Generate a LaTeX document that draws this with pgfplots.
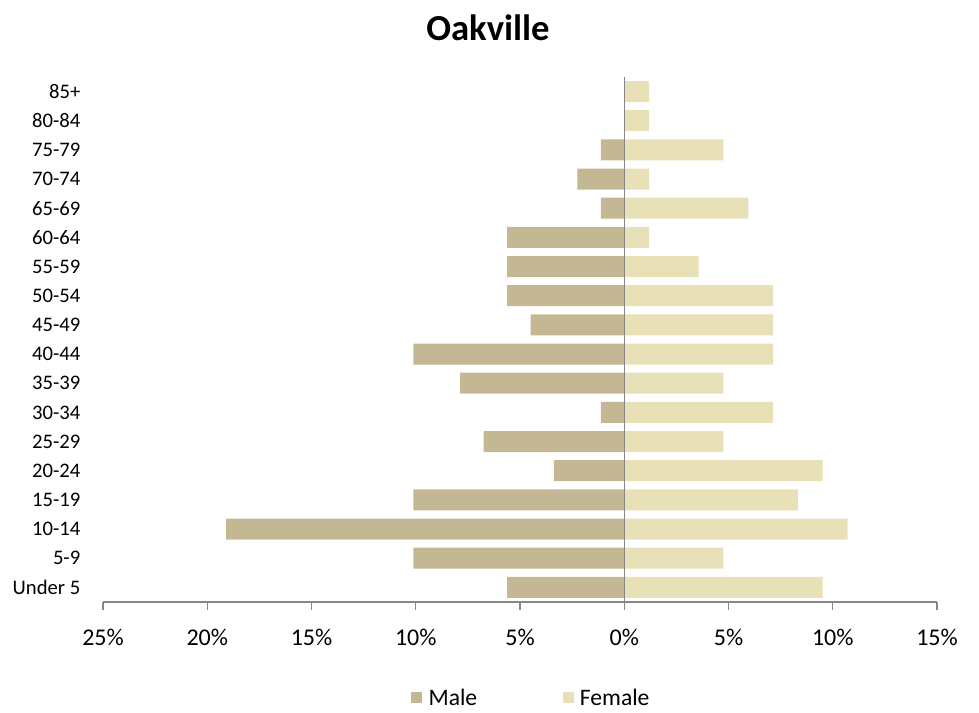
\documentclass[border=0pt]{standalone}
\usepackage{pgfplots}
\pgfplotsset{compat=1.18}
\usepackage{fontspec}
\setmainfont{Carlito}
\definecolor{malec}{HTML}{C4B894}
\definecolor{femalec}{HTML}{E8E0B6}
\definecolor{axgray}{HTML}{868686}
\begin{document}
\begin{tikzpicture}
\path[use as bounding box] (0,0) rectangle (734.25pt,534.75pt);
\begin{axis}[
  at={(77.25pt,83.25pt)}, anchor=south west,
  scale only axis, width=625.5pt, height=393.75pt,
  xmin=-25, xmax=15, ymin=-0.5, ymax=17.5,
  axis x line*=bottom, axis y line*=left,
  x axis line style={axgray, line width=1pt},
  y axis line style={draw=none},
  xtick={-25,-20,...,15},
  xticklabels={25\%,20\%,15\%,10\%,5\%,0\%,5\%,10\%,15\%},
  ytick={0,...,17},
  yticklabels={Under 5,5-9,10-14,15-19,20-24,25-29,30-34,35-39,40-44,45-49,50-54,55-59,60-64,65-69,70-74,75-79,80-84,85+},
  tick align=outside, major tick length=6pt,
  xtick style={axgray, line width=1pt},
  ytick style={draw=none},
  xticklabel style={font=\fontsize{18}{21}\selectfont, yshift=-11pt},
  yticklabel style={font=\fontsize{15.5}{18}\selectfont, xshift=-7.5pt},
  legend style={at={(0.514,-0.183)}, anchor=center, draw=none, fill=none,
    legend columns=2, font=\fontsize{17.7}{20}\selectfont,
    /tikz/every even column/.append style={column sep=62pt}},
  legend image code/.code={\fill[#1] (0pt,-4pt) rectangle (8.25pt,4.25pt); \path (0pt,0pt) -- (11pt,0pt);},
]
\addplot[xbar, bar width=15.75pt, bar shift=0pt, fill=malec, draw=none] coordinates {
(-5.62,0) (-10.11,1) (-19.10,2) (-10.11,3) (-3.37,4) (-6.74,5) (-1.12,6) (-7.87,7) (-10.11,8)
(-4.49,9) (-5.62,10) (-5.62,11) (-5.62,12) (-1.12,13) (-2.25,14) (-1.12,15) (0,16) (0,17)};
\addlegendentry{Male}
\addplot[xbar, bar width=15.75pt, bar shift=0pt, fill=femalec, draw=none] coordinates {
(9.52,0) (4.76,1) (10.71,2) (8.33,3) (9.52,4) (4.76,5) (7.14,6) (4.76,7) (7.14,8)
(7.14,9) (7.14,10) (3.57,11) (1.19,12) (5.95,13) (1.19,14) (4.76,15) (1.19,16) (1.19,17)};
\addlegendentry{Female}
\addplot[axgray, line width=1pt, forget plot] coordinates {(0,-0.5) (0,17.5)};
\end{axis}
\node[font=\bfseries\fontsize{27.5}{32}\selectfont] at (366pt,513.75pt) {Oakville};
\end{tikzpicture}
\end{document}
